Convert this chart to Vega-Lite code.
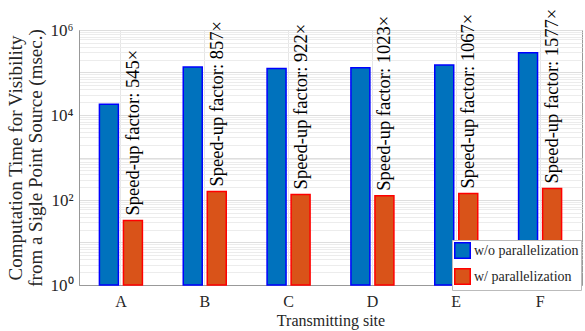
{
  "$schema": "https://vega.github.io/schema/vega-lite/v6.json",
  "width": 503,
  "height": 255,
  "autosize": {"type": "none"},
  "padding": {"left": 79, "top": 30, "right": 3, "bottom": 46},
  "background": "white",
  "config": {
    "font": "Liberation Serif",
    "view": {"stroke": "#999999", "strokeWidth": 1},
    "axis": {"labelFont": "Liberation Serif", "titleFont": "Liberation Serif", "labelColor": "#262626", "titleColor": "#262626", "titleFontWeight": "normal", "domainColor": "#999999"}
  },
  "data": {
    "values": [
      {"site": "A", "series": "w/o parallelization", "time": 18000, "label": "Speed-up factor: 545×"},
      {"site": "A", "series": "w/ parallelization", "time": 33, "label": "Speed-up factor: 545×"},
      {"site": "B", "series": "w/o parallelization", "time": 135000, "label": "Speed-up factor: 857×"},
      {"site": "B", "series": "w/ parallelization", "time": 157.5, "label": "Speed-up factor: 857×"},
      {"site": "C", "series": "w/o parallelization", "time": 125000, "label": "Speed-up factor: 922×"},
      {"site": "C", "series": "w/ parallelization", "time": 135.6, "label": "Speed-up factor: 922×"},
      {"site": "D", "series": "w/o parallelization", "time": 129000, "label": "Speed-up factor: 1023×"},
      {"site": "D", "series": "w/ parallelization", "time": 126.1, "label": "Speed-up factor: 1023×"},
      {"site": "E", "series": "w/o parallelization", "time": 151000, "label": "Speed-up factor: 1067×"},
      {"site": "E", "series": "w/ parallelization", "time": 141.5, "label": "Speed-up factor: 1067×"},
      {"site": "F", "series": "w/o parallelization", "time": 293000, "label": "Speed-up factor: 1577×"},
      {"site": "F", "series": "w/ parallelization", "time": 185.8, "label": "Speed-up factor: 1577×"}
    ]
  },
  "encoding": {
    "x": {
      "field": "site", "type": "nominal",
      "scale": {"paddingInner": 0.487, "paddingOuter": 0.2435},
      "axis": {
        "title": "Transmitting site", "titleFontSize": 16, "titlePadding": 3,
        "labelFontSize": 16, "labelAngle": 0, "labelPadding": 8,
        "ticks": false, "grid": true, "gridColor": "#e6e6e6", "bandPosition": 0.5
      }
    },
    "xOffset": {
      "field": "series", "type": "nominal",
      "scale": {"domain": ["w/o parallelization", "w/ parallelization"], "paddingInner": 0.21, "paddingOuter": 0}
    },
    "y": {
      "field": "time", "type": "quantitative",
      "scale": {"type": "log", "domain": [1, 1000000], "nice": false},
      "axis": {
        "title": ["Computation Time for Visibility", "from a Sigle Point Source (msec.)"],
        "titleFontSize": 19, "titleLineHeight": 20, "titlePadding": 5,
        "values": [1,2,3,4,5,6,7,8,9,10,20,30,40,50,60,70,80,90,100,200,300,400,500,600,700,800,900,1000,2000,3000,4000,5000,6000,7000,8000,9000,10000,20000,30000,40000,50000,60000,70000,80000,90000,100000,200000,300000,400000,500000,600000,700000,800000,900000,1000000],
        "labelExpr": "datum.value == 1 ? '10⁰' : datum.value == 100 ? '10²' : datum.value == 10000 ? '10⁴' : datum.value == 1000000 ? '10⁶' : ''",
        "labelFontSize": 17, "labelPadding": 6, "labelOverlap": false,
        "ticks": false,
        "grid": true,
        "gridColor": {"condition": {"test": "abs(log(datum.value)/LN10 - round(log(datum.value)/LN10)) < 0.000001", "value": "#dedede"}, "value": "#ececec"}
      }
    }
  },
  "layer": [
    {
      "mark": {"type": "bar", "strokeWidth": 1.5},
      "encoding": {
        "y2": {"datum": 1},
        "fill": {
          "field": "series", "type": "nominal",
          "scale": {"domain": ["w/o parallelization", "w/ parallelization"], "range": ["#0072BD", "#D95319"]},
          "legend": {
            "title": null, "orient": "none", "legendX": 373, "legendY": 210,
            "fillColor": "white", "strokeColor": "#bbbbbb", "padding": 2,
            "labelFont": "Liberation Serif",
            "labelFontSize": 14, "labelColor": "#262626", "symbolType": "square", "symbolSize": 240,
            "symbolStrokeWidth": 1.5, "rowPadding": 3, "labelOffset": 3
          }
        },
        "stroke": {
          "field": "series", "type": "nominal",
          "scale": {"domain": ["w/o parallelization", "w/ parallelization"], "range": ["#0000FF", "#FF0000"]},
          "legend": {
            "title": null, "orient": "none", "legendX": 373, "legendY": 210,
            "fillColor": "white", "strokeColor": "#bbbbbb", "padding": 2,
            "labelFont": "Liberation Serif",
            "labelFontSize": 14, "labelColor": "#262626", "symbolType": "square", "symbolSize": 240,
            "symbolStrokeWidth": 1.5, "rowPadding": 3, "labelOffset": 3
          }
        }
      }
    },
    {
      "transform": [{"filter": "datum.series == 'w/ parallelization'"}],
      "mark": {"type": "text", "angle": 270, "align": "left", "baseline": "middle", "dx": 5, "fontSize": 18.5, "font": "Liberation Serif", "color": "#000000"},
      "encoding": {
        "text": {"field": "label"}
      }
    }
  ]
}
